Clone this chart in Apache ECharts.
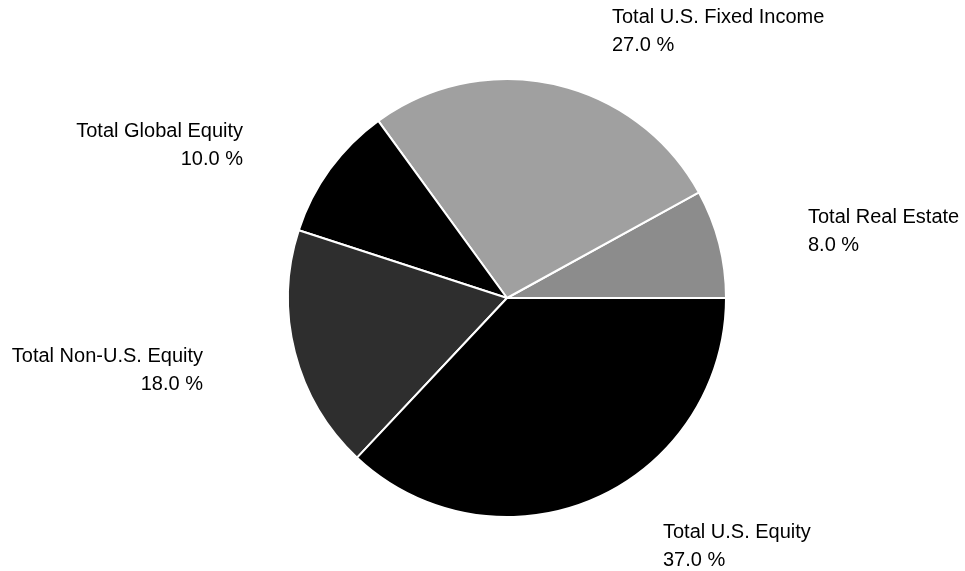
<!DOCTYPE html>
<html><head><meta charset="utf-8">
<script src="https://cdn.jsdelivr.net/npm/echarts@6/dist/echarts.min.js"></script>
<style>html,body{margin:0;padding:0;background:#fff}#c{width:965px;height:571px}</style>
</head><body><div id="c"></div>
<script>
const categories = ['Total Real Estate', 'Total U.S. Fixed Income', 'Total Global Equity', 'Total Non-U.S. Equity', 'Total U.S. Equity'];
const values = [8.0, 27.0, 10.0, 18.0, 37.0];
const colors = ['#8c8c8c', '#a0a0a0', '#000000', '#2e2e2e', '#000000'];
// label anchor placement (x, y of text block top, alignment)
const labelPos = [
  {x: 808, y: 203, align: 'left'},
  {x: 612, y: 3, align: 'left'},
  {x: 243, y: 117, align: 'right'},
  {x: 203, y: 342, align: 'right'},
  {x: 663, y: 518, align: 'left'}
];
const chart = echarts.init(document.getElementById('c'), null, {renderer: 'canvas'});
chart.setOption({
  animation: false,
  series: [{
    type: 'pie',
    center: [507, 298],
    radius: 219,
    startAngle: 0,
    clockwise: false,
    avoidLabelOverlap: false,
    itemStyle: {borderColor: '#ffffff', borderWidth: 2},
    label: {
      show: true,
      position: 'outside',
      formatter: p => p.name + '\n' + p.value.toFixed(1) + ' %',
      fontFamily: '"Liberation Sans Narrow", "Arial Narrow", "Liberation Sans", sans-serif',
      fontSize: 20,
      lineHeight: 28,
      color: '#000'
    },
    labelLine: {show: false},
    labelLayout: function (params) {
      const lp = labelPos[params.dataIndex];
      return {x: lp.x, y: lp.y, align: lp.align, verticalAlign: 'top', draggable: false};
    },
    data: categories.map((c, i) => ({name: c, value: values[i], itemStyle: {color: colors[i]}}))
  }]
});
</script></body></html>
